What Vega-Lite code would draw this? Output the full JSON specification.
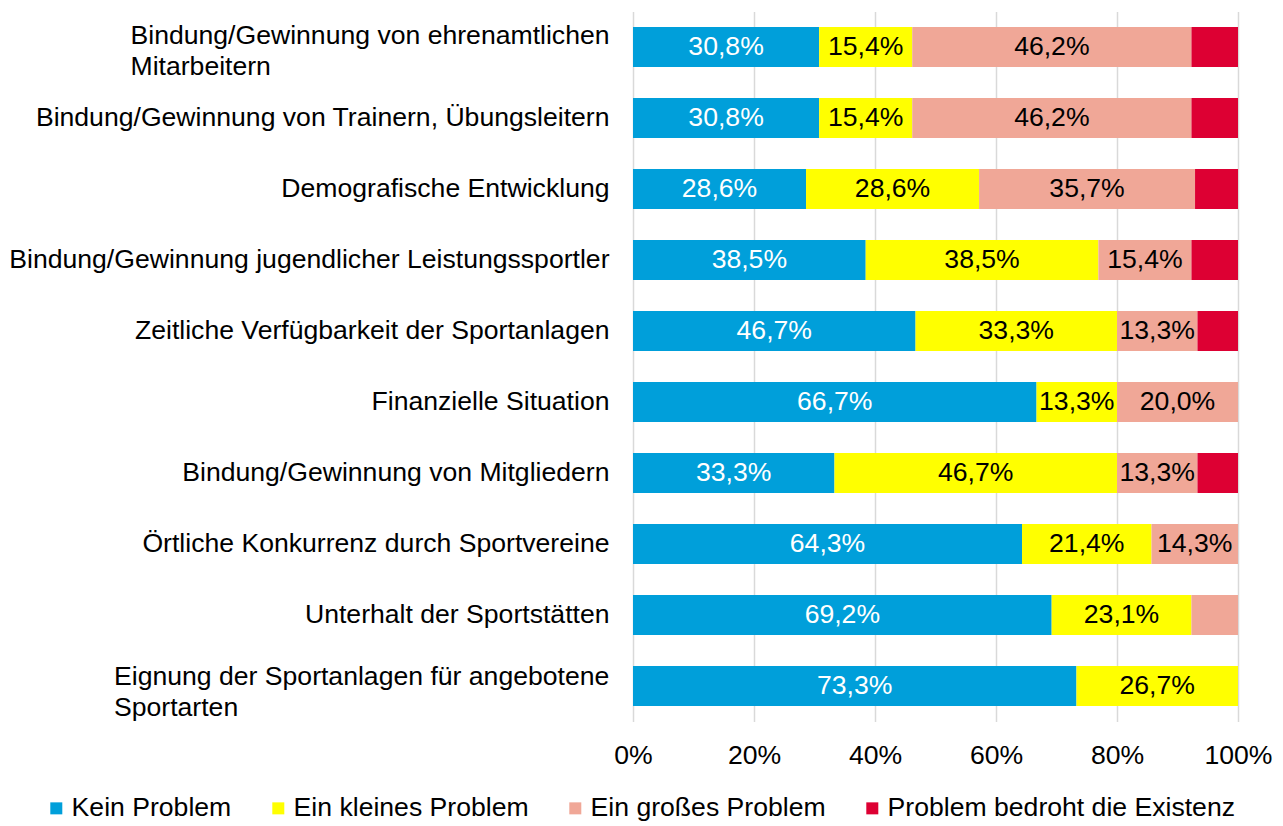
{
  "$schema": "https://vega.github.io/schema/vega-lite/v6.json",
  "width": 605,
  "height": 710,
  "autosize": {"type": "none"},
  "padding": {"left": 633, "top": 11.5, "right": 45, "bottom": 104.5},
  "config": {
    "view": {"stroke": null},
    "font": "Liberation Sans",
    "locale": {"number": {"decimal": ",", "thousands": ".", "grouping": [3], "currency": ["", " €"]}}
  },
  "data": {
    "values": [
      {"item": "Bindung/Gewinnung von ehrenamtlichen\nMitarbeitern", "code": 1, "cat": "Kein Problem", "value": 0.308},
      {"item": "Bindung/Gewinnung von ehrenamtlichen\nMitarbeitern", "code": 2, "cat": "Ein kleines Problem", "value": 0.154},
      {"item": "Bindung/Gewinnung von ehrenamtlichen\nMitarbeitern", "code": 3, "cat": "Ein großes Problem", "value": 0.462},
      {"item": "Bindung/Gewinnung von ehrenamtlichen\nMitarbeitern", "code": 4, "cat": "Problem bedroht die Existenz", "value": 0.077},
      {"item": "Bindung/Gewinnung von Trainern, Übungsleitern", "code": 1, "cat": "Kein Problem", "value": 0.308},
      {"item": "Bindung/Gewinnung von Trainern, Übungsleitern", "code": 2, "cat": "Ein kleines Problem", "value": 0.154},
      {"item": "Bindung/Gewinnung von Trainern, Übungsleitern", "code": 3, "cat": "Ein großes Problem", "value": 0.462},
      {"item": "Bindung/Gewinnung von Trainern, Übungsleitern", "code": 4, "cat": "Problem bedroht die Existenz", "value": 0.077},
      {"item": "Demografische Entwicklung", "code": 1, "cat": "Kein Problem", "value": 0.286},
      {"item": "Demografische Entwicklung", "code": 2, "cat": "Ein kleines Problem", "value": 0.286},
      {"item": "Demografische Entwicklung", "code": 3, "cat": "Ein großes Problem", "value": 0.357},
      {"item": "Demografische Entwicklung", "code": 4, "cat": "Problem bedroht die Existenz", "value": 0.071},
      {"item": "Bindung/Gewinnung jugendlicher Leistungssportler", "code": 1, "cat": "Kein Problem", "value": 0.385},
      {"item": "Bindung/Gewinnung jugendlicher Leistungssportler", "code": 2, "cat": "Ein kleines Problem", "value": 0.385},
      {"item": "Bindung/Gewinnung jugendlicher Leistungssportler", "code": 3, "cat": "Ein großes Problem", "value": 0.154},
      {"item": "Bindung/Gewinnung jugendlicher Leistungssportler", "code": 4, "cat": "Problem bedroht die Existenz", "value": 0.077},
      {"item": "Zeitliche Verfügbarkeit der Sportanlagen", "code": 1, "cat": "Kein Problem", "value": 0.467},
      {"item": "Zeitliche Verfügbarkeit der Sportanlagen", "code": 2, "cat": "Ein kleines Problem", "value": 0.333},
      {"item": "Zeitliche Verfügbarkeit der Sportanlagen", "code": 3, "cat": "Ein großes Problem", "value": 0.133},
      {"item": "Zeitliche Verfügbarkeit der Sportanlagen", "code": 4, "cat": "Problem bedroht die Existenz", "value": 0.067},
      {"item": "Finanzielle Situation", "code": 1, "cat": "Kein Problem", "value": 0.667},
      {"item": "Finanzielle Situation", "code": 2, "cat": "Ein kleines Problem", "value": 0.133},
      {"item": "Finanzielle Situation", "code": 3, "cat": "Ein großes Problem", "value": 0.2},
      {"item": "Bindung/Gewinnung von Mitgliedern", "code": 1, "cat": "Kein Problem", "value": 0.333},
      {"item": "Bindung/Gewinnung von Mitgliedern", "code": 2, "cat": "Ein kleines Problem", "value": 0.467},
      {"item": "Bindung/Gewinnung von Mitgliedern", "code": 3, "cat": "Ein großes Problem", "value": 0.133},
      {"item": "Bindung/Gewinnung von Mitgliedern", "code": 4, "cat": "Problem bedroht die Existenz", "value": 0.067},
      {"item": "Örtliche Konkurrenz durch Sportvereine", "code": 1, "cat": "Kein Problem", "value": 0.643},
      {"item": "Örtliche Konkurrenz durch Sportvereine", "code": 2, "cat": "Ein kleines Problem", "value": 0.214},
      {"item": "Örtliche Konkurrenz durch Sportvereine", "code": 3, "cat": "Ein großes Problem", "value": 0.143},
      {"item": "Unterhalt der Sportstätten", "code": 1, "cat": "Kein Problem", "value": 0.692},
      {"item": "Unterhalt der Sportstätten", "code": 2, "cat": "Ein kleines Problem", "value": 0.231},
      {"item": "Unterhalt der Sportstätten", "code": 3, "cat": "Ein großes Problem", "value": 0.077},
      {"item": "Eignung der Sportanlagen für angebotene\nSportarten", "code": 1, "cat": "Kein Problem", "value": 0.733},
      {"item": "Eignung der Sportanlagen für angebotene\nSportarten", "code": 2, "cat": "Ein kleines Problem", "value": 0.267}
    ]
  },
  "encoding": {
    "y": {
      "field": "item",
      "type": "nominal",
      "sort": [
        "Bindung/Gewinnung von ehrenamtlichen\nMitarbeitern",
        "Bindung/Gewinnung von Trainern, Übungsleitern",
        "Demografische Entwicklung",
        "Bindung/Gewinnung jugendlicher Leistungssportler",
        "Zeitliche Verfügbarkeit der Sportanlagen",
        "Finanzielle Situation",
        "Bindung/Gewinnung von Mitgliedern",
        "Örtliche Konkurrenz durch Sportvereine",
        "Unterhalt der Sportstätten",
        "Eignung der Sportanlagen für angebotene\nSportarten"
      ],
      "scale": {"paddingInner": 0.437, "paddingOuter": 0.2185},
      "axis": {
        "title": null,
        "domain": false,
        "ticks": false,
        "labelPadding": {
          "condition": [
            {"test": "indexof(datum.value, 'ehrenamtlichen') >= 0", "value": 503},
            {"test": "indexof(datum.value, 'angebotene') >= 0", "value": 519.5}
          ],
          "value": 24
        },
        "labelAlign": {
          "condition": {"test": "indexof(datum.value, '\\n') >= 0", "value": "left"},
          "value": "right"
        },
        "labelOffset": {
          "condition": [
            {"test": "indexof(datum.value, 'ehrenamtlichen') >= 0", "value": -11},
            {"test": "indexof(datum.value, 'angebotene') >= 0", "value": -9}
          ],
          "value": 0
        },
        "labelFontSize": 26.6,
        "labelFont": "Liberation Sans",
        "labelColor": "#000000",
        "labelLimit": 800,
        "labelLineHeight": 31,
        "labelExpr": "split(datum.value, '\\n')"
      }
    },
    "x": {
      "field": "value",
      "type": "quantitative",
      "stack": "normalize",
      "scale": {"domain": [0, 1]},
      "axis": {
        "title": null,
        "format": ".0%",
        "values": [0, 0.2, 0.4, 0.6, 0.8, 1],
        "domain": false,
        "ticks": false,
        "grid": true,
        "gridColor": "#D9D9D9",
        "gridWidth": 1.5,
        "labelFlush": false,
        "labelPadding": 21,
        "labelFontSize": 26.6,
        "labelFont": "Liberation Sans",
        "labelColor": "#000000"
      }
    },
    "order": {"field": "code", "type": "quantitative"},
    "color": {
      "field": "cat",
      "type": "nominal",
      "sort": ["Kein Problem", "Ein kleines Problem", "Ein großes Problem", "Problem bedroht die Existenz"],
      "scale": {
        "domain": ["Kein Problem", "Ein kleines Problem", "Ein großes Problem", "Problem bedroht die Existenz"],
        "range": ["#009FDA", "#FFFF00", "#F0A797", "#DD0033"]
      },
      "legend": {
        "title": null,
        "orient": "none",
        "legendX": -590,
        "legendY": 783.5,
        "direction": "horizontal",
        "symbolType": "square",
        "symbolSize": 144,
        "symbolStrokeWidth": 0,
        "symbolOpacity": 1,
        "labelFontSize": 26.6,
        "labelFont": "Liberation Sans",
        "labelColor": "#000000",
        "labelOffset": 2,
        "labelLimit": 600,
        "columnPadding": 33
      }
    }
  },
  "layer": [
    {"mark": {"type": "bar", "opacity": 1}},
    {
      "mark": {"type": "text", "fontSize": 26.6, "font": "Liberation Sans", "baseline": "middle", "align": "center"},
      "encoding": {
        "x": {"field": "value", "type": "quantitative", "stack": "normalize", "bandPosition": 0.5},
        "fill": {"condition": {"test": "datum.cat == 'Kein Problem'", "value": "#FFFFFF"}, "value": "#000000"},
        "text": {"condition": {"test": "datum.value < 0.1", "value": ""}, "field": "value", "type": "quantitative", "format": ".1%"}
      }
    }
  ]
}
